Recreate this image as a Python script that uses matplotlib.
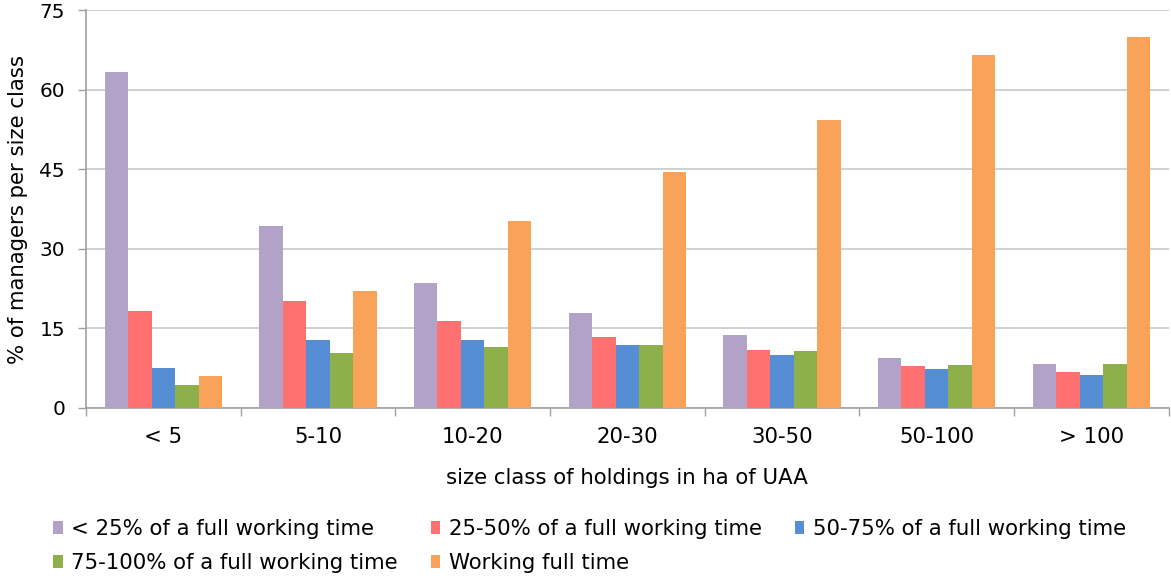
import matplotlib.pyplot as plt
import numpy as np

# share of farm managers by working time, per holding size class (ha of UAA)
size_classes = ['< 5', '5-10', '10-20', '20-30', '30-50', '50-100', '> 100']
series_names = ['< 25% of a full working time', '25-50% of a full working time',
                '50-75% of a full working time', '75-100% of a full working time',
                'Working full time']
under_25 = [63.3, 34.3, 23.6, 17.9, 13.8, 9.4, 8.3]
pct_25_50 = [18.3, 20.2, 16.4, 13.4, 10.9, 7.9, 6.8]
pct_50_75 = [7.5, 12.8, 12.8, 11.9, 10.0, 7.3, 6.2]
pct_75_100 = [4.3, 10.4, 11.5, 11.9, 10.7, 8.1, 8.3]
full_time = [6.0, 22.0, 35.2, 44.5, 54.3, 66.5, 69.9]

colors = ['#B2A2C7', '#FF7070', '#558ED5', '#8DB04B', '#F8A25A']
series = [under_25, pct_25_50, pct_50_75, pct_75_100, full_time]

fig = plt.figure(figsize=(11.71, 5.76), dpi=100)
ax = fig.add_axes([0.0734, 0.2917, 0.9246, 0.6909])

x = np.arange(len(size_classes))
w = 0.152
bars = []
for i, (vals, col, name) in enumerate(zip(series, colors, series_names)):
    bars.append(ax.bar(x + (i - 2) * w, vals, w, color=col, label=name, zorder=3))

ax.set_xlim(-0.5, len(size_classes) - 0.5)
ax.set_ylim(0, 75)
ax.set_yticks([0, 15, 30, 45, 60, 75])
ax.yaxis.grid(True, color='#C8C8C8', linewidth=1.2, zorder=0)

# category boundary ticks below the axis, labels centred in each class
ax.set_xticks(np.arange(len(size_classes) + 1) - 0.5)
ax.set_xticklabels([])
ax.set_xticks(x, minor=True)
ax.set_xticklabels(size_classes, minor=True)
ax.tick_params(axis='x', which='major', length=6, color='#A0A0A0', width=1)
ax.tick_params(axis='x', which='minor', length=0, pad=13.5, labelsize=15.3)
ax.tick_params(axis='y', length=6, color='#A0A0A0', width=1, labelsize=14.5, pad=9)

for s in ['top', 'right']:
    ax.spines[s].set_visible(False)
for s in ['left', 'bottom']:
    ax.spines[s].set_color('#A0A0A0')
    ax.spines[s].set_linewidth(1.2)

ax.set_xlabel('size class of holdings in ha of UAA', fontsize=15.3, labelpad=15)
ax.set_ylabel('% of managers per size class', fontsize=15.3, labelpad=8)

# legend filled row by row
order = [0, 3, 1, 4, 2]
fig.legend([bars[i] for i in order], [series_names[i] for i in order],
           loc='lower left', bbox_to_anchor=(0.029, -0.028), ncol=3, frameon=False,
           fontsize=15.3, handlelength=0.45, handleheight=0.6, handletextpad=0.4,
           columnspacing=1.55, labelspacing=0.65)

fig.savefig('out.png', dpi=100)
